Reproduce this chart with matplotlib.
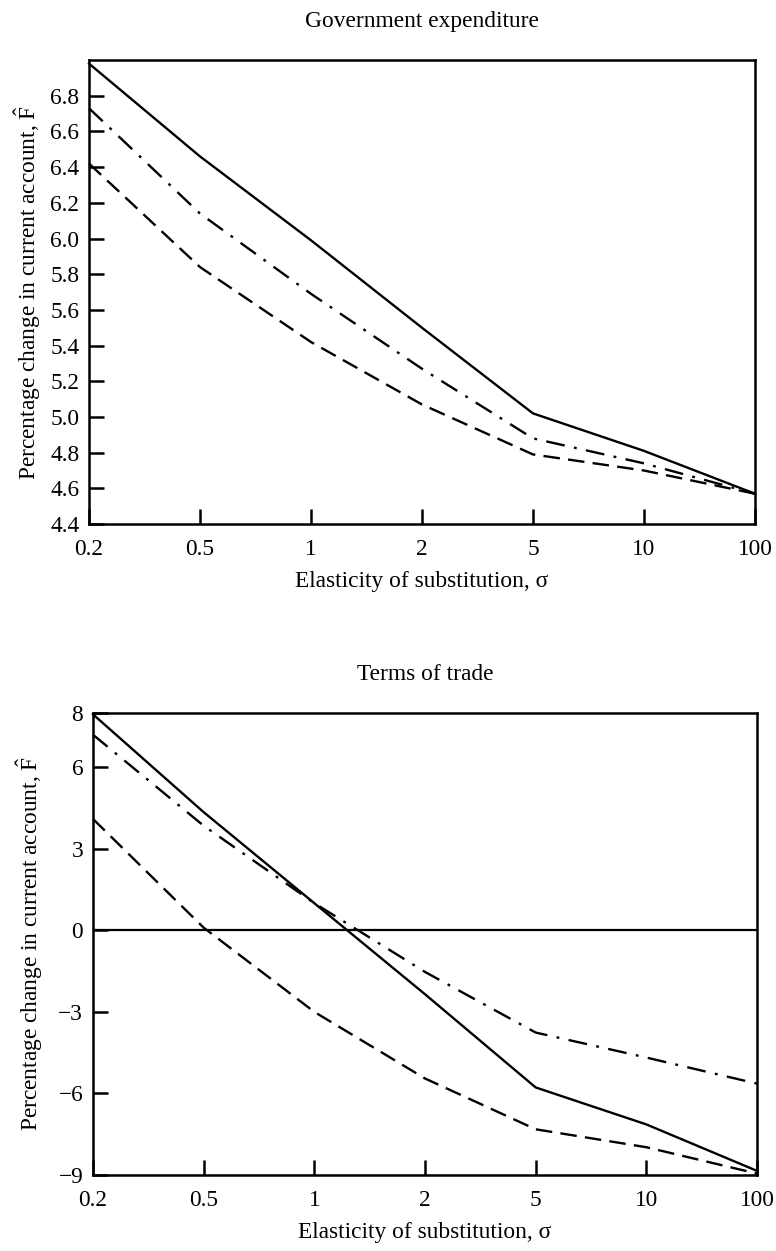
import matplotlib
matplotlib.use("Agg")
import matplotlib.pyplot as plt

plt.rcParams["font.family"] = ["Liberation Serif", "DejaVu Serif"]
plt.rcParams["mathtext.fontset"] = "custom"
plt.rcParams["mathtext.rm"] = "Liberation Serif"
plt.rcParams["mathtext.it"] = "Liberation Serif:italic"

# elasticity of substitution, plotted as equally spaced categories
sigma_labels = ["0.2", "0.5", "1", "2", "5", "10", "100"]

# Government expenditure
gov_solid = [6.98, 6.46, 5.99, 5.50, 5.02, 4.81, 4.57]
gov_dashdot = [6.73, 6.14, 5.69, 5.27, 4.88, 4.74, 4.57]
gov_dashed = [6.42, 5.84, 5.42, 5.07, 4.79, 4.70, 4.57]
gov_yticks = [4.4, 4.6, 4.8, 5.0, 5.2, 5.4, 5.6, 5.8, 6.0, 6.2, 6.4, 6.6, 6.8]

# Terms of trade
tot_solid = [7.95, 4.35, 1.0, -2.35, -5.78, -7.14, -8.85]
tot_dashdot = [7.2, 3.85, 1.0, -1.53, -3.76, -4.68, -5.64]
tot_dashed = [4.1, 0.1, -3.0, -5.45, -7.32, -7.98, -8.95]
tot_yticks = [-9, -6, -3, 0, 3, 6, 8]

YLABEL = r"Percentage change in current account, $\hat{\mathrm{F}}$"
XLABEL = "Elasticity of substitution, σ"
FS = 16.8


def style_axes(ax, yticks, ylim, title, fmt, ylab_x):
    x = range(len(sigma_labels))
    ax.set_xlim(0, len(sigma_labels) - 1)
    ax.set_ylim(*ylim)
    ax.set_xticks(list(x))
    ax.set_xticklabels(sigma_labels, fontsize=FS)
    ax.set_yticks(yticks)
    ax.set_yticklabels([fmt(v) for v in yticks], fontsize=FS)
    ax.tick_params(direction="in", length=11, width=1.8)
    ax.tick_params(axis="x", pad=11)
    ax.tick_params(axis="y", pad=7)
    for sp in ax.spines.values():
        sp.set_linewidth(1.8)
    ax.set_xlabel(XLABEL, fontsize=FS, labelpad=8)
    ax.set_ylabel(YLABEL, fontsize=FS)
    ax.yaxis.set_label_coords(ylab_x, 0.5)
    ax.set_title(title, fontsize=FS, pad=24)


def draw(ax, solid, dashdot, dashed):
    x = range(len(sigma_labels))
    ax.plot(x, solid, color="black", lw=1.7, clip_on=False)
    ax.plot(x, dashdot, color="black", lw=1.7, dashes=(8, 4, 1.2, 4), clip_on=False)
    ax.plot(x, dashed, color="black", lw=1.7, dashes=(7, 3.5), clip_on=False)


fig = plt.figure(figsize=(7.76, 12.51), dpi=100)

ax1 = fig.add_axes([0.1147, 0.5811, 0.8582, 0.3709])
draw(ax1, gov_solid, gov_dashdot, gov_dashed)
style_axes(ax1, gov_yticks, (4.4, 7.0), "Government expenditure",
           lambda v: f"{v:.1f}", -0.0695)

ax2 = fig.add_axes([0.1198, 0.0608, 0.8557, 0.3693])
ax2.axhline(0, color="black", lw=1.6)
draw(ax2, tot_solid, tot_dashdot, tot_dashed)
style_axes(ax2, tot_yticks, (-9, 8), "Terms of trade",
           lambda v: f"{v:d}".replace("-", "\u2212"), -0.0725)

fig.savefig("out.png", dpi=100)
